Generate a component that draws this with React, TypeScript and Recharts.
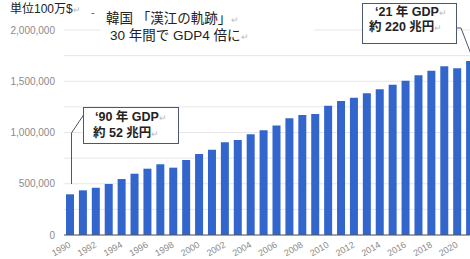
import React from 'react';
import { BarChart, Bar, XAxis, YAxis, CartesianGrid } from 'recharts';

const years = [
  '1990', '1991', '1992', '1993', '1994', '1995', '1996', '1997', '1998', '1999',
  '2000', '2001', '2002', '2003', '2004', '2005', '2006', '2007', '2008', '2009',
  '2010', '2011', '2012', '2013', '2014', '2015', '2016', '2017', '2018', '2019',
  '2020', '2021',
];

// 単位100万$
const gdp = [
  397000, 436000, 461000, 498000, 546000, 598000, 647000, 690000, 657000, 732000,
  790000, 832000, 904000, 927000, 982000, 1021000, 1068000, 1138000, 1171000, 1180000,
  1261000, 1307000, 1340000, 1382000, 1421000, 1466000, 1505000, 1558000, 1603000, 1646000,
  1626000, 1698000,
];

const yTicks = [0, 250000, 500000, 750000, 1000000, 1250000, 1500000, 1750000, 2000000];

const data = years.map((year, i) => ({ year, gdp: gdp[i] }));

// latin font first keeps the line boxes tight, kanji fall back to Noto CJK
const JP = '"Liberation Sans", "Noto Sans CJK JP", sans-serif';
const LATIN = '"Liberation Sans", Arial, sans-serif';
const EDGE = '#4a5870';

const XTick = ({ x, y, payload }: any) => (
  <g transform={`translate(${x},${y})`}>
    <text
      x={-3}
      y={0}
      dy={7}
      textAnchor="end"
      transform="rotate(-30)"
      fontSize={9}
      fontFamily={LATIN}
      fill="#8a8a8a"
    >
      {payload.value}
    </text>
  </g>
);

const fmtY = (v: number) => (v % 500000 === 0 ? v.toLocaleString('en-US') : '');

// one line of annotation text, top-positioned with a fixed line height
const Line = ({ left, top, size, lh, bold, children }: any) => (
  <div
    style={{
      position: 'absolute',
      left,
      top,
      height: lh,
      lineHeight: `${lh}px`,
      fontSize: size,
      fontFamily: JP,
      fontWeight: bold ? 700 : 400,
      color: '#222',
      whiteSpace: 'nowrap',
    }}
  >
    {children}
    <span style={{ color: '#bbb', fontSize: 9, fontWeight: 400 }}>↵</span>
  </div>
);

const Annotations = () => (
  <>
    <svg
      width={470}
      height={259}
      style={{ position: 'absolute', left: 0, top: 0, pointerEvents: 'none' }}
    >
      <rect x={100} y={4} width={214} height={44} fill="#fff" />
      <rect x={362.5} y={3.5} width={94} height={40} fill="#fff" stroke={EDGE} strokeWidth={1} />
      <polyline points="457,28 461,28 474,62" fill="none" stroke={EDGE} strokeWidth={1} />
      <rect x={83.5} y={107.5} width={95} height={36} fill="#fff" stroke={EDGE} strokeWidth={1} />
      <polyline points="83.5,115 71.5,133 71.5,184" fill="none" stroke={EDGE} strokeWidth={1} />
      <text x={91} y={16} fontSize={11} fontFamily={LATIN} fill="#555">-</text>
    </svg>

    <Line left={10} top={2} size={12} lh={15}>単位100万$</Line>

    <Line left={106} top={10} size={13.5} lh={17}>韓国 「漢江の軌跡」</Line>
    <Line left={110} top={27} size={13.5} lh={17}>30 年間で GDP4 倍に</Line>

    <Line left={375} top={5} size={12.5} lh={15} bold>‘21 年 GDP</Line>
    <Line left={369} top={20} size={12.5} lh={15} bold>約 220 兆円</Line>

    <Line left={95} top={108.5} size={12.5} lh={16} bold>‘90 年 GDP</Line>
    <Line left={93} top={124.5} size={12.5} lh={16} bold>約 52 兆円</Line>
  </>
);

export default function App() {
  return (
    <div
      style={{
        position: 'fixed',
        left: 0,
        top: 0,
        width: 470,
        height: 259,
        overflow: 'hidden',
        background: '#fff',
      }}
    >
      <BarChart
        width={480}
        height={259}
        data={data}
        margin={{ top: 30, right: 3, bottom: 0, left: 0 }}
      >
        <CartesianGrid vertical={false} stroke="#e6e6e6" />
        <XAxis
          dataKey="year"
          interval={1}
          height={24}
          tickLine={false}
          tickSize={0}
          tickMargin={4}
          axisLine={{ stroke: '#555' }}
          tick={<XTick />}
        />
        <YAxis
          width={64}
          domain={[0, 2000000]}
          ticks={yTicks}
          tickFormatter={fmtY}
          axisLine={false}
          tickLine={false}
          tickSize={0}
          tickMargin={9}
          tick={{ fontSize: 10, fill: '#8a8a8a', fontFamily: LATIN }}
        />
        <Bar dataKey="gdp" fill="#3366cc" barSize={8} isAnimationActive={false} />
      </BarChart>
      <Annotations />
    </div>
  );
}
